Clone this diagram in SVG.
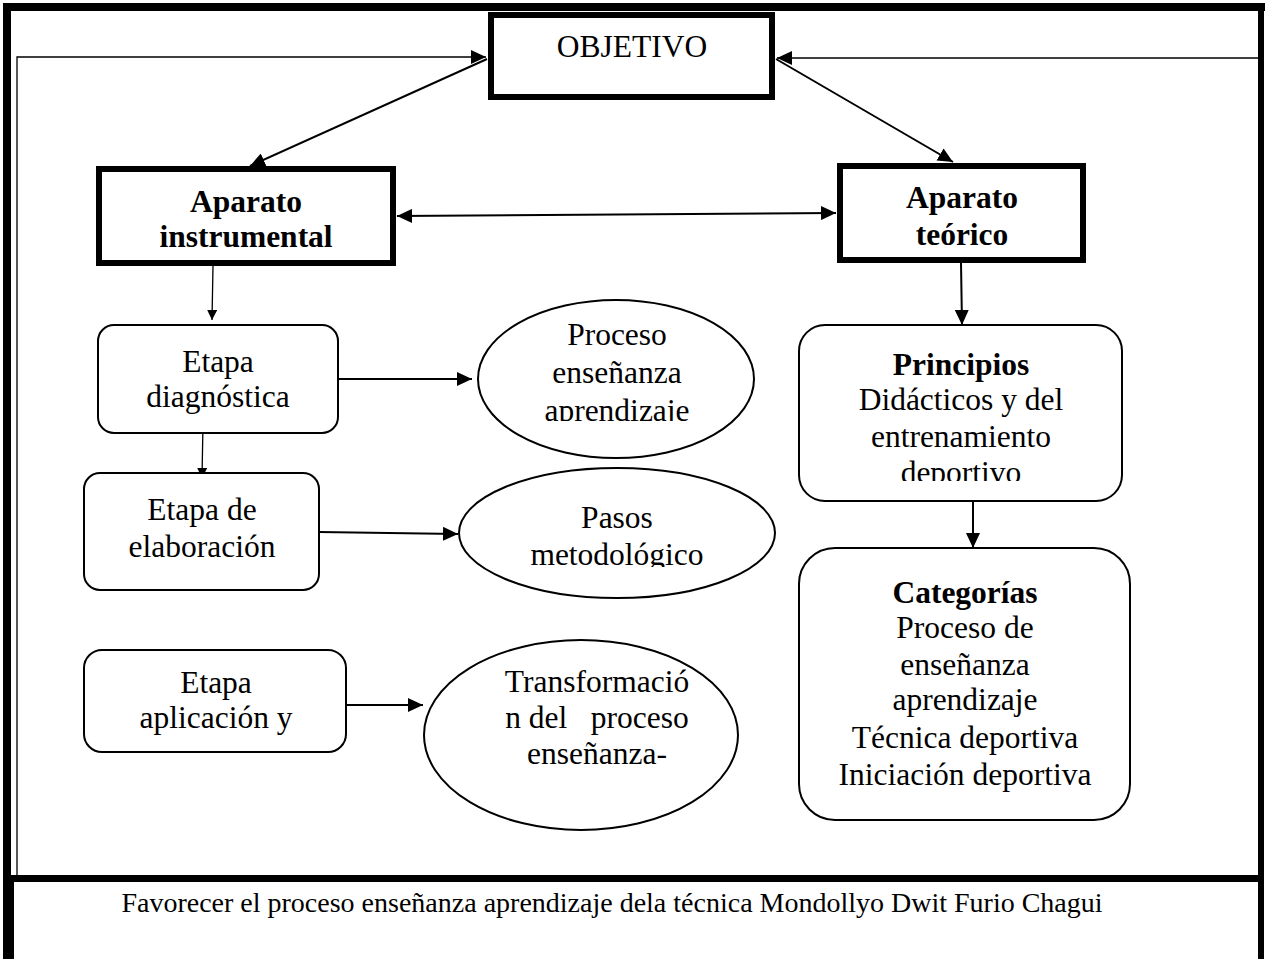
<svg xmlns="http://www.w3.org/2000/svg" width="1272" height="959" viewBox="0 0 1272 959">
<style>
text{font-family:"Liberation Serif","Times New Roman",serif;font-size:31.5px;fill:#000;text-anchor:middle}
.b{font-weight:bold}
.thick{fill:#fff;stroke:#000;stroke-width:6}
.rr{fill:#fff;stroke:#000;stroke-width:2}
.c{fill:none;stroke:#000;stroke-width:2}
.t{fill:none;stroke:#000;stroke-width:1.3}
.foot{font-size:28px}
</style>
<defs>
<marker id="ah" markerUnits="userSpaceOnUse" markerWidth="16" markerHeight="14" viewBox="0 0 16 14" refX="15" refY="7" orient="auto"><path d="M0,0 L15,7 L0,14 z" fill="#000"/></marker>
<marker id="as" markerUnits="userSpaceOnUse" markerWidth="16" markerHeight="14" viewBox="0 0 16 14" refX="1" refY="7" orient="auto"><path d="M16,0 L1,7 L16,14 z" fill="#000"/></marker>
<marker id="sm" markerUnits="userSpaceOnUse" markerWidth="11" markerHeight="10" viewBox="0 0 11 10" refX="10" refY="5" orient="auto"><path d="M0,0 L10,5 L0,10 z" fill="#000"/></marker>
<clipPath id="cp1"><rect x="470" y="290" width="300" height="131"/></clipPath>
<clipPath id="cp2"><rect x="450" y="460" width="340" height="107"/></clipPath>
<clipPath id="cp3"><rect x="790" y="320" width="340" height="161"/></clipPath>
</defs>
<g id="frame">
<rect x="3" y="3" width="1262" height="8" fill="#000"/>
<rect x="3" y="3" width="8" height="956" fill="#000"/>
<rect x="3" y="875" width="11" height="84" fill="#000"/>
<rect x="1258" y="3" width="6" height="956" fill="#000"/>
<rect x="3" y="875" width="1261" height="7" fill="#000"/>
</g>
<g id="connectors">
<path class="t" d="M17,875 V57 H486" marker-end="url(#ah)"/>
<path class="t" d="M1258,58 H777" marker-end="url(#ah)"/>
<path class="c" d="M487,59 L250,166" marker-end="url(#ah)"/>
<path class="c" d="M776,59 L953,162" marker-end="url(#ah)"/>
<path class="c" d="M397,216 L836,213" marker-start="url(#as)" marker-end="url(#ah)"/>
<path class="t" d="M213,266 L212,320" marker-end="url(#sm)"/>
<path class="t" d="M203,423 L202,478" marker-end="url(#sm)"/>
<path class="c" d="M338,379 L472,379" marker-end="url(#ah)"/>
<path class="c" d="M319,532 L458,534" marker-end="url(#ah)"/>
<path class="c" d="M346,705 L423,705" marker-end="url(#ah)"/>
<path class="c" d="M961,263 L962,325" marker-end="url(#ah)"/>
<path class="c" d="M973,501 L973,548" marker-end="url(#ah)"/>
</g>
<g id="objetivo">
<rect class="thick" x="491" y="15" width="281" height="82"/>
<text x="632" y="57">OBJETIVO</text>
</g>
<g id="aparato-instrumental">
<rect class="thick" x="99" y="169" width="294" height="94"/>
<text class="b" x="246" y="212">Aparato</text>
<text class="b" x="246" y="247">instrumental</text>
</g>
<g id="aparato-teorico">
<rect class="thick" x="840" y="166" width="243" height="94"/>
<text class="b" x="962" y="208">Aparato</text>
<text class="b" x="962" y="245">teórico</text>
</g>
<g id="etapa-diagnostica">
<rect class="rr" x="98" y="325" width="240" height="108" rx="16"/>
<text x="218" y="372">Etapa</text>
<text x="218" y="407">diagnóstica</text>
</g>
<g id="etapa-elaboracion">
<rect class="rr" x="84" y="473" width="235" height="117" rx="16"/>
<text x="202" y="520">Etapa de</text>
<text x="202" y="557">elaboración</text>
</g>
<g id="etapa-aplicacion">
<rect class="rr" x="84" y="650" width="262" height="102" rx="18"/>
<text x="216" y="693">Etapa</text>
<text x="216" y="728">aplicación y</text>
</g>
<g id="proceso">
<ellipse class="rr" cx="616" cy="379" rx="138" ry="79"/>
<g clip-path="url(#cp1)">
<text x="617" y="345">Proceso</text>
<text x="617" y="383">enseñanza</text>
<text x="617" y="421">aprendizaje</text>
</g>
</g>
<g id="pasos">
<ellipse class="rr" cx="617" cy="533" rx="158" ry="65"/>
<g clip-path="url(#cp2)">
<text x="617" y="528">Pasos</text>
<text x="617" y="565">metodológico</text>
</g>
</g>
<g id="transformacion">
<ellipse class="rr" cx="581" cy="735" rx="157" ry="95"/>
<text x="597" y="692">Transformació</text>
<text x="597" y="728" style="white-space:pre">n del   proceso</text>
<text x="597" y="764">enseñanza-</text>
</g>
<g id="principios">
<rect class="rr" x="799" y="325" width="323" height="176" rx="26"/>
<text class="b" x="961" y="375">Principios</text>
<g clip-path="url(#cp3)">
<text x="961" y="410">Didácticos y del</text>
<text x="961" y="447">entrenamiento</text>
<text x="961" y="483">deportivo</text>
</g>
</g>
<g id="categorias">
<rect class="rr" x="799" y="548" width="331" height="272" rx="36"/>
<text class="b" x="965" y="603">Categorías</text>
<text x="965" y="638">Proceso de</text>
<text x="965" y="675">enseñanza</text>
<text x="965" y="710">aprendizaje</text>
<text x="965" y="748">Técnica deportiva</text>
<text x="965" y="785">Iniciación deportiva</text>
</g>
<g id="objetivo-texto">
<text class="foot" x="612" y="912">Favorecer el proceso enseñanza aprendizaje dela técnica Mondollyo Dwit Furio Chagui</text>
</g>
</svg>
